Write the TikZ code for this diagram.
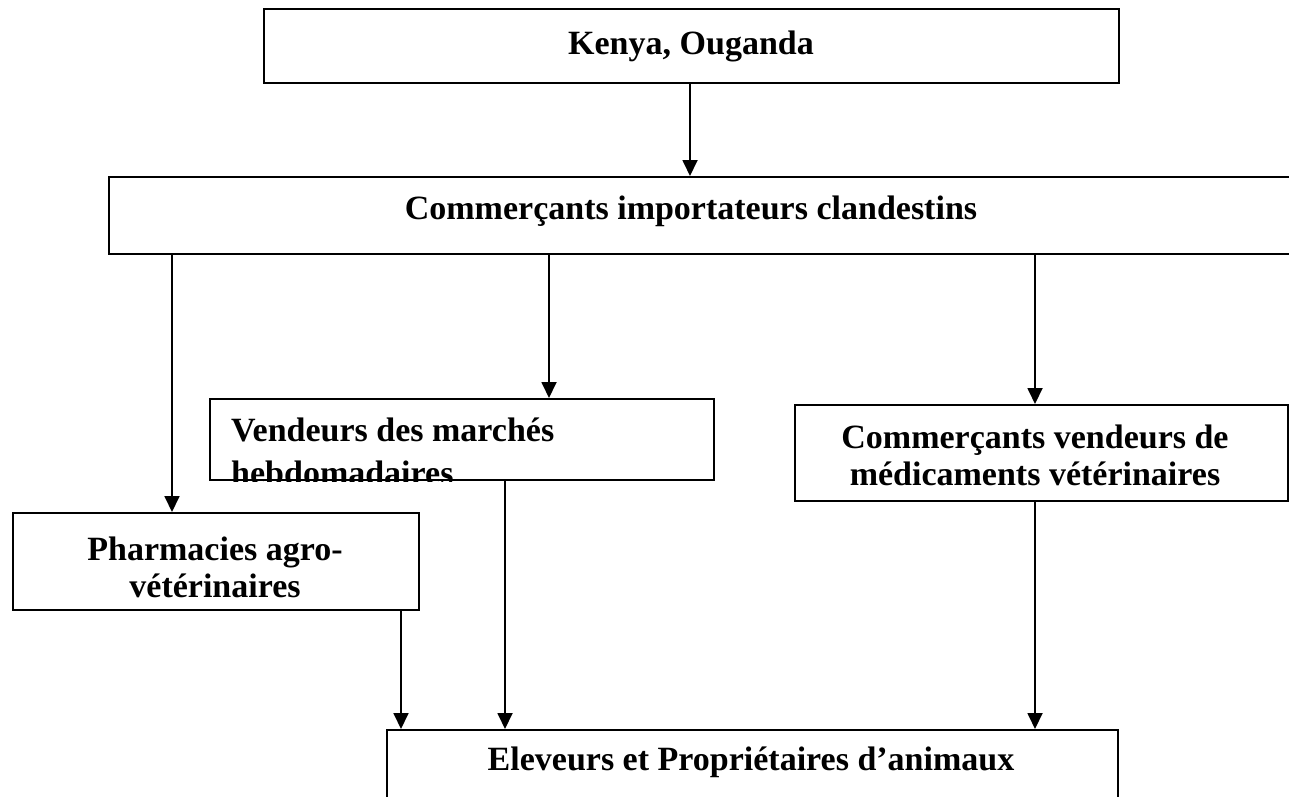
\documentclass[tikz,border=0pt]{standalone}
\usepackage{fontspec}
\setmainfont{Liberation Serif}
\usetikzlibrary{arrows.meta}
\begin{document}
\begin{tikzpicture}[x=1pt,y=-1pt,
  box/.style={draw, line width=2pt, rectangle, inner sep=0pt, anchor=north west},
  lbl/.style={font=\bfseries\fontsize{34}{37}\selectfont, inner sep=0pt, anchor=base, align=center},
  arr/.style={line width=1.8pt, -{Triangle[length=16pt,width=15pt]}}]
\useasboundingbox (0,0) rectangle (1289,796);
\clip (0,0) rectangle (1289,796);
% boxes (north west corner, size)
\node[box, minimum width=855, minimum height=74] (kenya) at (263,8) {};
\node[box, minimum width=1200, minimum height=77] (imp) at (108,176) {};
\node[box, minimum width=504, minimum height=81] (vend) at (209,398) {};
\node[box, minimum width=493, minimum height=96] (comv) at (794,404) {};
\node[box, minimum width=406, minimum height=97] (pharm) at (12,512) {};
\node[box, minimum width=731, minimum height=120] (elev) at (386,729) {};
% labels (multi-line labels are placed by the baseline of their last line)
\node[lbl] (kenyaT) at (691,54) {Kenya, Ouganda};
\node[lbl] (impT) at (691,219) {Commerçants importateurs clandestins};
\begin{scope}
  \clip (vend.north west) rectangle (vend.south east);
  \node[lbl, anchor=base west, align=left] (vendT) at (231,484) {Vendeurs des marchés\\[6pt]hebdomadaires};
\end{scope}
\node[lbl] (comvT) at (1035,485) {Commerçants vendeurs de\\médicaments vétérinaires};
\node[lbl] (pharmT) at (215,597) {Pharmacies agro-\\vétérinaires};
\node[lbl] (elevT) at (751,770) {Eleveurs et Propriétaires d’animaux};
% arrow columns
\coordinate (c0) at (690,0);
\coordinate (c1) at (172,0);
\coordinate (c2) at (549,0);
\coordinate (c3) at (1035,0);
\coordinate (c4) at (401,0);
\coordinate (c5) at (505,0);
% connectors
\draw[arr] (kenya.south -| c0) -- (imp.north -| c0);
\draw[arr] (imp.south -| c1) -- (pharm.north -| c1);
\draw[arr] (imp.south -| c2) -- (vend.north -| c2);
\draw[arr] (imp.south -| c3) -- (comv.north -| c3);
\draw[arr] (pharm.south -| c4) -- (elev.north -| c4);
\draw[arr] (vend.south -| c5) -- (elev.north -| c5);
\draw[arr] (comv.south -| c3) -- (elev.north -| c3);
\end{tikzpicture}
\end{document}
